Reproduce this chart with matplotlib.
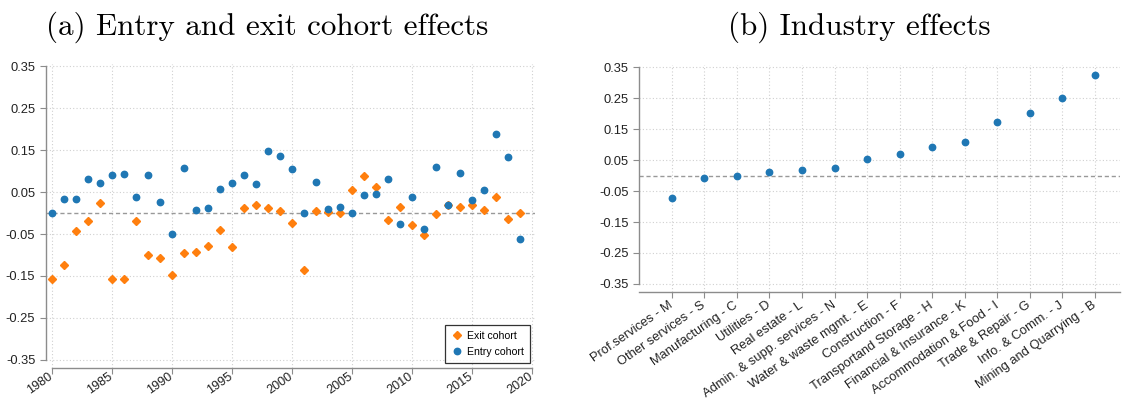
import matplotlib
matplotlib.use("Agg")
import matplotlib.pyplot as plt
import numpy as np

years = list(range(1980, 2020))
entry_cohort = [0.000, 0.033, 0.034, 0.082, 0.072, 0.090, 0.094, 0.037, 0.091, 0.026,
                -0.050, 0.107, 0.008, 0.011, 0.057, 0.072, 0.091, 0.070, 0.148, 0.136,
                0.105, 0.000, 0.074, 0.009, 0.015, 0.000, 0.044, 0.046, 0.080, -0.025,
                0.038, -0.038, 0.109, 0.018, 0.096, 0.031, 0.056, 0.188, 0.134, -0.061]
exit_cohort = [-0.158, -0.123, -0.043, -0.020, 0.025, -0.157, -0.156, -0.020, -0.099, -0.107,
               -0.148, -0.096, -0.092, -0.079, -0.041, -0.081, 0.012, 0.020, 0.012, 0.006,
               -0.023, -0.136, 0.006, 0.003, 0.000, 0.054, 0.089, 0.061, -0.016, 0.014,
               -0.028, -0.053, -0.002, 0.020, 0.015, 0.018, 0.007, 0.038, -0.015, 0.000]

industries = ["Prof.services - M", "Other services - S", "Manufacturing - C", "Utilities - D",
              "Real estate - L", "Admin. & supp. services - N", "Water & waste mgmt. - E",
              "Construction - F", "Transportand Storage - H", "Financial & Insurance - K",
              "Accommodation & Food - I", "Trade & Repair - G", "Info. & Comm. - J",
              "Mining and Quarrying - B"]
industry_effects = [-0.071, -0.008, 0.000, 0.012, 0.018, 0.024, 0.052, 0.071, 0.092, 0.107,
                    0.172, 0.201, 0.251, 0.325]

yticks = [0.35, 0.25, 0.15, 0.05, -0.05, -0.15, -0.25, -0.35]
ytick_labels = ["0.35", "0.25", "0.15", "0.05", "-0.05", "-0.15", "-0.25", "-0.35"]
xticks_years = [1980, 1985, 1990, 1995, 2000, 2005, 2010, 2015, 2020]

BLUE = "#1f77b4"
ORANGE = "#ff7f0e"
SPINE = "#8c8c8c"
GRID = "#d0d0d0"
TICKFONT = "Liberation Sans"
TICKSIZE = 9.3

W, H = 1122, 398
fig = plt.figure(figsize=(W / 100, H / 100), dpi=100)

def px_axes(l, r, t, b):
    return fig.add_axes([l / W, 1 - b / H, (r - l) / W, (b - t) / H])

def style(ax, xpad, xsize):
    for s in ["top", "right"]:
        ax.spines[s].set_visible(False)
    for s in ["left", "bottom"]:
        ax.spines[s].set_color(SPINE)
        ax.spines[s].set_linewidth(1.0)
    ax.tick_params(axis="both", colors=SPINE, length=4, width=0.8, labelcolor="#222222",
                   labelsize=TICKSIZE)
    ax.tick_params(axis="x", pad=xpad, labelsize=xsize)
    ax.grid(True, color=GRID, linestyle=(0, (1, 2)), linewidth=0.8)
    ax.set_axisbelow(True)
    ax.set_yticks(yticks)
    ax.set_yticklabels(ytick_labels, fontfamily=TICKFONT)

def rot_labels(ax, labels, size):
    ax.set_xticklabels(labels, rotation=35, ha="right", va="center",
                       rotation_mode="anchor", fontfamily=TICKFONT, fontsize=size)

# Left panel
ax1 = px_axes(45.7, 535, 64, 367.5)
style(ax1, 2, 9.1)
ax1.set_xlim(1979.5, 2020.25)
ax1.set_ylim(-0.368, 0.355)
ax1.spines["left"].set_bounds(-0.35, 0.35)
ax1.spines["bottom"].set_bounds(1980, 2020)
ax1.axhline(0, color="#999999", linestyle=(0, (3, 2)), linewidth=1.0, zorder=1)
ax1.plot(years, exit_cohort, linestyle="none", marker="D", markersize=4.2,
         color=ORANGE, label="Exit cohort", zorder=3)
ax1.plot(years, entry_cohort, linestyle="none", marker="o", markersize=4.6,
         color=BLUE, label="Entry cohort", zorder=3)
ax1.set_xticks(xticks_years)
rot_labels(ax1, [str(y) for y in xticks_years], 9.1)
leg = ax1.legend(loc="lower right", frameon=True, fancybox=False,
                 prop={"family": TICKFONT, "size": 7.6}, borderpad=0.55,
                 handletextpad=0.3, handlelength=1.3, labelspacing=0.55,
                 borderaxespad=0.0, bbox_to_anchor=(0.99, 0.016))
leg.get_frame().set_edgecolor("black")
leg.get_frame().set_linewidth(0.9)

# Right panel
ax2 = px_axes(639.3, 1120, 65, 292.3)
style(ax2, 4.5, TICKSIZE)
xpos = np.arange(len(industries))
ax2.set_xlim(-1.0, 13.77)
ax2.set_ylim(-0.377, 0.357)
ax2.spines["left"].set_bounds(-0.35, 0.35)
ax2.axhline(0, color="#999999", linestyle=(0, (3, 2)), linewidth=1.0, zorder=1)
ax2.plot(xpos, industry_effects, linestyle="none", marker="o", markersize=4.6,
         color=BLUE, zorder=3)
ax2.set_xticks(xpos)
rot_labels(ax2, industries, TICKSIZE)

fig.text(267 / W, 1 - 35 / H, "(a) Entry and exit cohort effects", family="cmr10",
         fontsize=22.4, ha="center", va="baseline")
fig.text(859 / W, 1 - 35 / H, "(b) Industry effects", family="cmr10",
         fontsize=22.4, ha="center", va="baseline")

fig.savefig("out.png", dpi=100)
